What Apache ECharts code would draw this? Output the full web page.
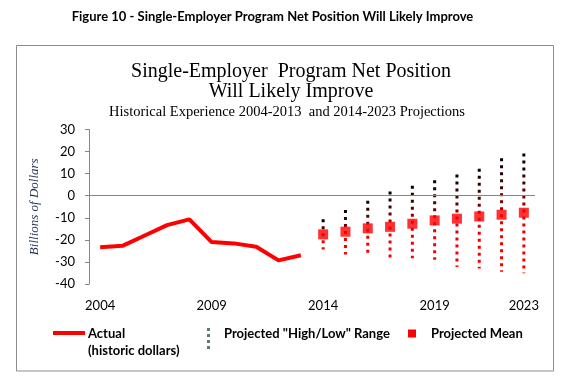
<!DOCTYPE html>
<html>
<head>
<meta charset="utf-8">
<script src="https://cdn.jsdelivr.net/npm/echarts@6/dist/echarts.min.js"></script>
<style>
html,body{margin:0;padding:0;background:#fff;}
#chart{width:561px;height:379px;}
</style>
</head>
<body>
<div id="chart"></div>
<script>
var years = ['2004','2005','2006','2007','2008','2009','2010','2011','2012','2013',
             '2014','2015','2016','2017','2018','2019','2020','2021','2022','2023'];
var shownYears = ['2004','2009','2014','2019','2023'];
var actual = [-23.3,-22.7,-18.0,-13.3,-10.7,-21.0,-21.6,-23.1,-29.3,-27.0];
var projYears = ['2014','2015','2016','2017','2018','2019','2020','2021','2022','2023'];
var projMean = [-17.5,-16.3,-14.8,-14.1,-12.7,-11.2,-10.4,-9.4,-8.6,-7.7];
var projHigh = [-11.3,-7.1,-3.0,1.2,3.8,6.3,8.9,11.5,16.3,18.4];
var projLow  = [-23.7,-26.0,-25.2,-27.4,-27.7,-28.3,-31.6,-32.3,-33.8,-34.5];
var yTicks = [-40,-30,-20,-10,0,10,20,30];

var actualData = years.map(function(y,i){ return i < actual.length ? actual[i] : null; });
var rangeData = projYears.map(function(y,i){ return [y, projLow[i], projHigh[i]]; });
var meanData = projYears.map(function(y,i){ return [y, projMean[i]]; });

var chart = echarts.init(document.getElementById('chart'), null, {renderer:'canvas'});
var option = {
  backgroundColor:'#fff',
  animation:false,
  title:[
    {text:'Figure 10 - Single-Employer Program Net Position Will Likely Improve', left:267.5, textAlign:'center', top:5,
     textStyle:{fontFamily:'Lato', fontWeight:'bold', fontSize:13, lineHeight:13, color:'#000'}},
    {text:'Single-Employer  Program Net Position\nWill Likely Improve', left:286, textAlign:'center', top:56.5,
     textStyle:{fontFamily:'Liberation Serif', fontWeight:'normal', fontSize:20, lineHeight:20, color:'#000'}},
    {text:'Historical Experience 2004-2013  and 2014-2023 Projections', left:282, textAlign:'center', top:99.5,
     textStyle:{fontFamily:'Liberation Serif', fontWeight:'normal', fontSize:14.5, lineHeight:15, color:'#000'}}
  ],
  grid:{left:89, right:26, top:129.5, bottom:95, containLabel:false},
  xAxis:{
    type:'category', data:years, boundaryGap:true,
    axisLine:{show:false, onZero:false}, axisTick:{show:false},
    axisLabel:{
      interval:0, margin:15, fontFamily:'Lato', fontSize:13, color:'#000',
      formatter:function(v){ return shownYears.indexOf(v) >= 0 ? v : ''; }
    },
    splitLine:{show:false}
  },
  yAxis:{
    type:'value', min:-40, max:30, interval:10,
    name:'Billions of Dollars', nameLocation:'middle', nameGap:48, nameRotate:90,
    nameTextStyle:{fontFamily:'Liberation Serif', fontStyle:'italic', fontSize:13, color:'#1f2f4f'},
    axisLine:{show:true, lineStyle:{color:'#868686', width:1}},
    axisTick:{show:true, inside:false, length:4, lineStyle:{color:'#868686'}},
    axisLabel:{fontFamily:'Lato', fontSize:13, color:'#000', margin:14,
      formatter:function(v){ return yTicks.indexOf(v) >= 0 ? String(v) : ''; }},
    splitLine:{show:false}
  },
  series:[
    {
      name:'Actual (historic dollars)', type:'line', data:actualData,
      showSymbol:false, symbol:'none', connectNulls:false,
      lineStyle:{color:'#ff0000', width:4}, z:3,
      markLine:{silent:true, symbol:'none', label:{show:false},
        lineStyle:{color:'#868686', width:1, type:'solid'}, data:[{yAxis:0}]}
    },
    {
      name:'Projected "High/Low" Range', type:'custom', data:rangeData,
      encode:{x:0, y:[1,2]},
      renderItem:function(params, api){
        var x = api.value(0);
        var pLow = api.coord([x, api.value(1)]);
        var pHigh = api.coord([x, api.value(2)]);
        var grad = new echarts.graphic.LinearGradient(pHigh[0], pHigh[1], pLow[0], pLow[1], [
          {offset:0, color:'#000000'},
          {offset:0.35, color:'#6a0000'},
          {offset:0.55, color:'#e00000'},
          {offset:1, color:'#ff0000'}
        ], true);
        return {
          type:'line',
          shape:{x1:pHigh[0], y1:pHigh[1]-1.5, x2:pLow[0], y2:pLow[1]+1.5},
          style:{stroke:grad, lineWidth:3, lineDash:[3,4], lineCap:'butt', fill:null}
        };
      },
      z:4
    },
    {
      name:'Projected Mean', type:'scatter', data:meanData,
      symbol:'rect', symbolSize:10, itemStyle:{color:'#ff0000'}, z:5
    }
  ],
  graphic:[
    {type:'rect', shape:{x:16.5, y:45.5, width:537, height:325.5}, style:{fill:null, stroke:'#8c8c8c', lineWidth:1}, z:-1, silent:true},
    {type:'line', shape:{x1:53, y1:333, x2:85, y2:333}, style:{stroke:'#ff0000', lineWidth:4}},
    {type:'text', x:88, y:333.5, style:{text:'Actual', font:'bold 13px Lato', fill:'#000', textVerticalAlign:'middle'}},
    {type:'text', x:88, y:351, style:{text:'(historic dollars)', font:'bold 13px Lato', fill:'#000', textVerticalAlign:'middle'}},
    {type:'line', shape:{x1:208.5, y1:328, x2:208.5, y2:352}, style:{stroke:'#5f7a6e', lineWidth:3, lineDash:[3,3]}},
    {type:'text', x:224, y:333.5, style:{text:'Projected "High/Low" Range', font:'bold 13px Lato', fill:'#000', textVerticalAlign:'middle'}},
    {type:'rect', shape:{x:408, y:329.5, width:8, height:8}, style:{fill:'#ff0000'}},
    {type:'text', x:431, y:333.5, style:{text:'Projected Mean', font:'bold 13px Lato', fill:'#000', textVerticalAlign:'middle'}}
  ]
};
chart.setOption(option);
</script>
</body>
</html>
